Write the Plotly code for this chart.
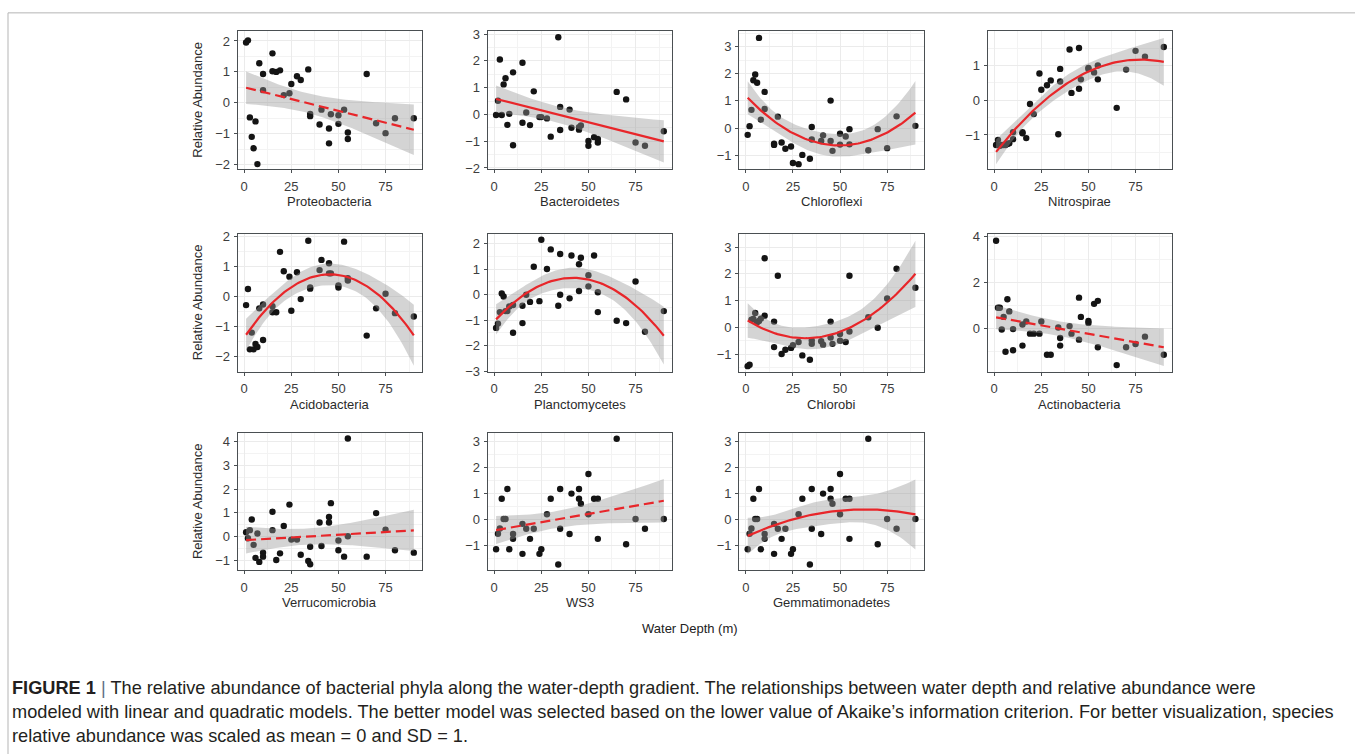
import numpy as np
import plotly.graph_objects as go

# ---------------- data ----------------
depth = [1, 2, 3, 4, 5, 6, 7, 8, 10, 10, 15, 15, 17, 19, 21, 24, 25, 28, 30, 34,
         35, 35, 40, 41, 45, 45, 46, 50, 50, 53, 55, 55, 65, 70, 75, 80, 90]

proteobacteria = [1.95, 2.02, -0.47, -1.10, -1.47, -0.60, -1.98, 1.28, 0.93, 0.41, 1.60, 1.02, 1.00, 1.05,
                  0.25, 0.31, 0.61, 0.86, 0.74, 1.08, -0.36, -0.43, -0.70, -0.22, -0.83, -1.31, -0.37,
                  -0.40, -0.68, -0.22, -0.96, -1.17, 0.93, -0.66, -0.98, -0.50, -0.50]
bacteroidetes = [-0.02, 0.51, 2.05, -0.02, 1.12, 1.35, -0.39, 0.02, 1.57, -1.15, 1.93, -0.31, 0.07, -0.40,
                 0.86, -0.10, -0.10, -0.15, -0.83, 2.88, -0.58, 0.28, 0.18, -0.50, -0.57, -0.48, -0.41,
                 -0.99, -1.17, -0.85, -0.92, -1.05, 0.84, 0.56, -1.05, -1.17, -0.63]
chloroflexi = [-0.25, 0.07, 0.67, 1.76, 1.97, 1.67, 3.32, 0.31, 1.33, 0.70, -0.58, -0.62, 0.42, -0.53,
               -0.76, -0.68, -1.29, -1.33, -0.99, -1.13, 0.04, -0.42, -0.48, -0.27, 1.01, -0.48, -0.84,
               -0.21, -0.61, -0.31, -0.04, -0.60, -0.82, -0.04, -0.74, 0.43, 0.08]
nitrospirae = [-1.29, -1.14, -1.31, -1.29, -1.29, -1.29, -1.26, -1.24, -0.92, -1.12, -0.92, -0.95, -1.09,
               -0.11, -0.40, 0.77, 0.30, 0.43, 0.57, -0.98, 0.54, 0.90, 1.46, 0.21, 1.50, 0.33, 0.60,
               0.93, 0.90, 0.80, 1.00, 0.60, -0.22, 0.88, 1.42, 1.25, 1.53]
acidobacteria = [-0.28, 0.26, -1.76, -1.20, -1.76, -1.58, -1.68, -0.39, -0.26, -1.45, -0.32, -0.52, -0.52,
                 1.50, 0.85, 0.67, -0.47, 0.82, -0.08, 1.87, 0.31, 0.27, 0.89, 1.23, 1.12, 0.78, 0.78,
                 0.38, 0.31, 1.84, 0.62, 0.54, -1.30, -0.39, 0.10, -0.55, -0.66]
planctomycetes = [-1.31, -1.14, -0.69, 0.04, -0.08, -0.65, -0.65, -0.47, -0.41, -1.50, -0.44, -1.12, -0.01,
                  -0.29, 1.09, -0.26, 2.15, 1.00, 1.77, -0.44, -0.01, 1.59, -0.15, 1.53, 1.19, 0.14, 1.44,
                  0.76, 0.32, 1.53, 0.09, -0.69, -1.03, -1.12, 0.51, -1.46, -0.65]
chlorobi = [-1.44, -1.39, 0.29, 0.32, 0.54, 0.20, 0.24, 0.33, 2.58, 0.44, 0.22, -0.73, 1.93, -0.99,
            -0.83, -0.76, -0.66, -0.54, -1.04, -1.20, -0.48, -0.61, -0.51, -0.64, 0.22, -0.37, -0.61,
            -0.24, -0.49, -0.54, 1.93, -0.15, 0.38, -0.01, 1.08, 2.19, 1.48]
actinobacteria = [3.81, 0.89, 0.89, -0.06, 0.49, -1.03, 1.26, 0.73, -0.04, -0.96, -0.76, 0.16, 0.29, -0.24,
                  -0.24, -0.24, 0.29, -1.16, -1.16, 0.03, -0.43, -0.76, 0.09, -0.24, 1.33, -0.50, 0.49,
                  0.31, 0.23, 1.06, 1.19, -0.83, -1.61, -0.83, -0.69, -0.37, -1.16]
verrucomicrobia = [0.18, -0.07, 0.27, 0.72, -0.35, -0.90, 0.13, -1.07, -0.68, -0.85, 1.05, 0.27, -0.99,
                   -0.71, 0.45, 1.35, -0.13, -0.13, -0.77, -1.03, -1.17, -0.43, 0.59, -0.40, 0.83, 0.59,
                   1.41, -0.17, -0.58, -0.85, 4.14, 0.01, -0.85, 0.99, 0.29, -0.58, -0.68]
ws3 = [-1.15, -0.55, -0.35, 0.80, 0.02, 0.02, 1.18, -1.15, -0.75, -0.56, -1.33, -0.17, -0.36, -0.75,
       -0.36, -1.33, -1.15, 0.20, 0.80, -1.74, 1.18, -0.36, -0.56, 1.00, 1.18, 0.80, 0.61, 1.76, 0.20,
       0.80, 0.80, -0.75, 3.12, -0.96, 0.02, -0.36, 0.02]
gemmatimonadetes = [-1.15, -0.55, -0.35, 0.80, 0.02, 0.02, 1.18, -1.15, -0.75, -0.56, -1.33, -0.17, -0.36,
                    -0.75, -0.36, -1.33, -1.15, 0.20, 0.80, -1.74, 1.18, -0.36, -0.56, 1.00, 1.18, 0.80,
                    0.61, 1.76, 0.20, 0.80, 0.80, -0.75, 3.12, -0.96, 0.02, -0.36, 0.02]

phyla = ["Proteobacteria", "Bacteroidetes", "Chloroflexi", "Nitrospirae",
         "Acidobacteria", "Planctomycetes", "Chlorobi", "Actinobacteria",
         "Verrucomicrobia", "WS3", "Gemmatimonadetes"]
abundance = [proteobacteria, bacteroidetes, chloroflexi, nitrospirae,
             acidobacteria, planctomycetes, chlorobi, actinobacteria,
             verrucomicrobia, ws3, gemmatimonadetes]
# selected model (1 = linear, 2 = quadratic) and whether the fit is significant
model_degree = [1, 1, 2, 2, 2, 2, 2, 1, 1, 1, 2]
significant = [False, True, True, True, True, True, True, False, False, False, True]

# ---------------- layout geometry (pixels) ----------------
W, H = 1355, 754
col_left = [237.7, 487.7, 739.3, 987.7]
panel_w = 184.5
row_tb = [(26.8, 166.7), (232.3, 372.7), (435.0, 574.3)]
y_ranges = [[-2.14, 2.31], [-2.04, 3.10], [-1.51, 3.56], [-1.98, 1.98],
            [-2.51, 2.11], [-3.03, 2.39], [-1.65, 3.50], [-1.90, 4.12],
            [-1.42, 4.37], [-1.96, 3.34], [-1.96, 3.34]]
y_dtick = [1, 1, 1, 1, 1, 1, 1, 2, 1, 1, 1]
T_CRIT = 2.03

FONT = "Liberation Sans, Arial, sans-serif"
FRAME = "#4a4f52"


def fit_band(x, y, deg, grid):
    X = np.vander(x, deg + 1, increasing=True)
    beta, *_ = np.linalg.lstsq(X, y, rcond=None)
    resid = y - X @ beta
    s2 = resid @ resid / (len(x) - (deg + 1))
    inv = np.linalg.inv(X.T @ X)
    G = np.vander(grid, deg + 1, increasing=True)
    yhat = G @ beta
    se = np.sqrt(s2 * np.einsum("ij,jk,ik->i", G, inv, G))
    return yhat, yhat - T_CRIT * se, yhat + T_CRIT * se


fig = go.Figure()
annotations = []
x_arr = np.array(depth, dtype=float)
grid = np.linspace(x_arr.min(), x_arr.max(), 80)

for i, (name, vals) in enumerate(zip(phyla, abundance)):
    k = i + 1
    r, c = divmod(i, 4)
    xa = "x" if k == 1 else f"x{k}"
    ya = "y" if k == 1 else f"y{k}"
    y_arr = np.array(vals, dtype=float)
    yhat, lo, hi = fit_band(x_arr, y_arr, model_degree[i], grid)

    fig.add_trace(go.Scatter(x=depth, y=vals, mode="markers", xaxis=xa, yaxis=ya,
                             marker=dict(color="#141414", size=6.4, line=dict(width=0)),
                             showlegend=False, hoverinfo="x+y"))
    fig.add_trace(go.Scatter(x=np.concatenate([grid, grid[::-1]]),
                             y=np.concatenate([hi, lo[::-1]]),
                             fill="toself", fillcolor="rgba(153,153,153,0.42)",
                             line=dict(width=0), mode="lines", xaxis=xa, yaxis=ya,
                             showlegend=False, hoverinfo="skip"))
    fig.add_trace(go.Scatter(x=grid, y=yhat, mode="lines", xaxis=xa, yaxis=ya,
                             line=dict(color="#e8262a", width=2.2,
                                       dash="solid" if significant[i] else "10px,5px"),
                             showlegend=False, hoverinfo="skip"))

    x0 = col_left[c] / W
    x1 = (col_left[c] + panel_w) / W
    top, bot = row_tb[r]
    y0 = 1 - bot / H
    y1 = 1 - top / H
    axis_common = dict(showline=True, mirror=True, linecolor=FRAME, linewidth=1.2,
                       ticks="outside", ticklen=3, tickwidth=1.1, tickcolor=FRAME,
                       showgrid=True, gridcolor="#ebebeb", gridwidth=1,
                       zeroline=False,
                       tickfont=dict(family=FONT, size=13, color="#3d3d3d"))
    xkey = "xaxis" if k == 1 else f"xaxis{k}"
    ykey = "yaxis" if k == 1 else f"yaxis{k}"
    fig.layout[xkey] = dict(axis_common, domain=[x0, x1], anchor=ya, range=[-3.45, 94.45],
                            tickvals=[0, 25, 50, 75], ticklabelstandoff=2,
                            minor=dict(showgrid=True, gridcolor="#f3f3f3", gridwidth=0.6,
                                       tickvals=[12.5, 37.5, 62.5, 87.5]))
    d = y_dtick[i]
    fig.layout[ykey] = dict(axis_common, domain=[y0, y1], anchor=xa, range=y_ranges[i],
                            dtick=d, tick0=0, ticklabelstandoff=1,
                            minor=dict(showgrid=True, gridcolor="#f3f3f3", gridwidth=0.6,
                                       dtick=d, tick0=d / 2))
    annotations.append(dict(text=name, xref="paper", yref="paper",
                            x=(col_left[c] + panel_w / 2) / W, y=1 - (bot + 33.0) / H,
                            xanchor="center", yanchor="middle", showarrow=False,
                            font=dict(family=FONT, size=13, color="#2b2b2b")))
    if c == 0:
        annotations.append(dict(text="Relative Abundance", xref="paper", yref="paper",
                                x=197.5 / W, y=1 - ((top + bot) / 2) / H, textangle=-90,
                                xanchor="center", yanchor="middle", showarrow=False,
                                font=dict(family=FONT, size=13, color="#2b2b2b")))

annotations.append(dict(text="Water Depth (m)", xref="paper", yref="paper",
                        x=690 / W, y=1 - 634 / H, xanchor="center", yanchor="middle",
                        showarrow=False, font=dict(family=FONT, size=13, color="#222222")))

caption = [
    "<b>FIGURE 1</b> <span style='color:#5b6f86'>|</span> The relative abundance of bacterial phyla along the water-depth gradient. The relationships between water depth and relative abundance were",
    "modeled with linear and quadratic models. The better model was selected based on the lower value of Akaike\u2019s information criterion. For better visualization, species",
    "relative abundance was scaled as mean = 0 and SD = 1.",
]
for j, line in enumerate(caption):
    annotations.append(dict(text=line, xref="paper", yref="paper",
                            x=10 / W, y=1 - (694 + 24.5 * j) / H, xanchor="left", yanchor="middle",
                            showarrow=False, align="left",
                            font=dict(family=FONT, size=18.2, color="#231f20")))

fig.update_layout(
    width=W, height=H, margin=dict(l=0, r=0, t=0, b=0),
    paper_bgcolor="white", plot_bgcolor="white",
    annotations=annotations,
    shapes=[dict(type="rect", xref="paper", yref="paper",
                 x0=8 / W, x1=1.01, y0=-0.02, y1=1 - 8 / H,
                 line=dict(color="#b5b5b5", width=1), fillcolor="rgba(0,0,0,0)", layer="below")],
)

fig.write_html("out.html", config={"displayModeBar": False},
               post_script="document.body.style.margin='0';document.body.style.overflow='hidden';")
